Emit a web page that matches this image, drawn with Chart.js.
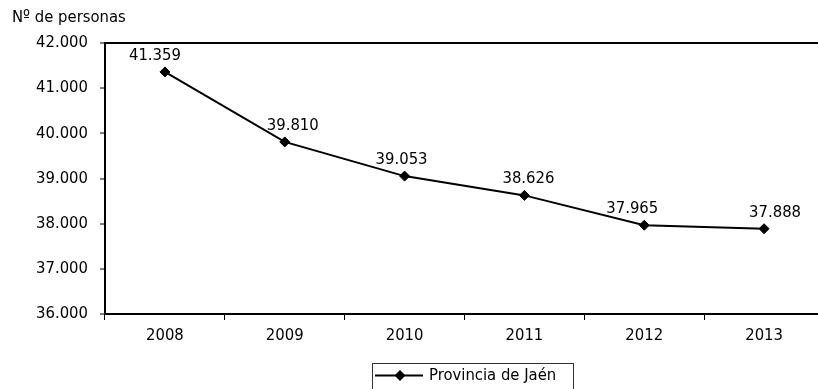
<!DOCTYPE html>
<html>
<head>
<meta charset="utf-8">
<script src="https://cdn.jsdelivr.net/npm/chart.js@4.4.1/dist/chart.umd.min.js"></script>
<style>
  html, body { margin: 0; padding: 0; background: #fff; }
  #clip { width: 818px; height: 389px; overflow: hidden; position: relative; }
  #wrap { width: 830px; height: 389px; position: absolute; left: 0; top: 0; }
</style>
</head>
<body>
<div id="clip"><div id="wrap"><canvas id="c"></canvas></div></div>
<script>
// ---- data ----
const categories = ['2008', '2009', '2010', '2011', '2012', '2013'];
const personas = [41359, 39810, 39053, 38626, 37965, 37888];
const seriesName = 'Provincia de Jaén';
const yAxisTitle = 'Nº de personas';
const yMin = 36000, yMax = 42000, yStep = 1000;

const FONT = "'DejaVu Sans Condensed', 'Noto Sans', 'DejaVu Sans', sans-serif";
const FSIZE = 16.5;
const fmt = v => String(v).replace(/\B(?=(\d{3})+(?!\d))/g, '.');

const labelDx = [-10, 8, -3, 4, -12, 11];

const decorPlugin = {
  id: 'decor',
  afterDatasetsDraw(chart) {
    const ctx = chart.ctx;
    const meta = chart.getDatasetMeta(0);
    ctx.save();
    ctx.font = FSIZE + 'px ' + FONT;
    ctx.fillStyle = '#000';
    ctx.textAlign = 'center';
    ctx.textBaseline = 'bottom';
    meta.data.forEach((pt, i) => {
      ctx.fillText(fmt(chart.data.datasets[0].data[i]), pt.x + labelDx[i], pt.y - 8);
    });
    ctx.restore();
  },
  afterDraw(chart) {
    const ctx = chart.ctx;
    ctx.save();
    // axis title
    ctx.font = FSIZE + 'px ' + FONT;
    ctx.fillStyle = '#000';
    ctx.textAlign = 'left';
    ctx.textBaseline = 'middle';
    ctx.fillText(yAxisTitle, 12, 18);
    // legend
    ctx.strokeStyle = '#333';
    ctx.lineWidth = 1;
    ctx.strokeRect(372.5, 363.5, 201, 40);
    ctx.strokeStyle = '#000';
    ctx.lineWidth = 2;
    ctx.beginPath();
    ctx.moveTo(375, 375.5);
    ctx.lineTo(423, 375.5);
    ctx.stroke();
    ctx.fillStyle = '#000';
    ctx.beginPath();
    ctx.moveTo(400, 370);
    ctx.lineTo(405.5, 375.5);
    ctx.lineTo(400, 381);
    ctx.lineTo(394.5, 375.5);
    ctx.closePath();
    ctx.fill();
    ctx.textAlign = 'left';
    ctx.textBaseline = 'middle';
    ctx.fillText(seriesName, 429, 376);
    ctx.restore();
  }
};

new Chart(document.getElementById('c'), {
  type: 'line',
  data: {
    labels: categories,
    datasets: [{
      label: seriesName,
      data: personas,
      borderColor: '#000',
      backgroundColor: '#000',
      borderWidth: 2,
      pointStyle: 'rectRot',
      pointRadius: 5,
      pointBorderWidth: 1,
      pointBackgroundColor: '#000',
      pointBorderColor: '#000',
      tension: 0,
      fill: false
    }]
  },
  options: {
    responsive: true,
    maintainAspectRatio: false,
    animation: false,
    devicePixelRatio: 1,
    layout: { padding: { top: 43, right: 4, bottom: 0, left: 0 } },
    plugins: {
      legend: { display: false },
      title: { display: false },
      tooltip: { enabled: false }
    },
    scales: {
      x: {
        type: 'category',
        offset: true,
        afterFit: s => { s.height = 75; },
        border: { display: true, color: '#000', width: 2 },
        grid: {
          display: true,
          offset: true,
          drawOnChartArea: false,
          drawTicks: true,
          tickLength: 6,
          tickColor: '#000',
          tickWidth: 1
        },
        ticks: {
          color: '#000',
          padding: 6,
          maxRotation: 0,
          font: { family: FONT, size: FSIZE }
        }
      },
      y: {
        min: yMin,
        max: yMax,
        afterFit: s => { s.width = 105; },
        border: { display: true, color: '#000', width: 2 },
        grid: {
          display: true,
          drawOnChartArea: true,
          color: ctx => (ctx.tick && ctx.tick.value === yMax) ? '#000' : 'rgba(0,0,0,0)',
          lineWidth: 2,
          tickLength: 5,
          tickColor: '#000',
          tickWidth: 1
        },
        ticks: {
          stepSize: yStep,
          color: '#000',
          padding: 12,
          font: { family: FONT, size: FSIZE },
          callback: v => fmt(v)
        }
      }
    }
  },
  plugins: [decorPlugin]
});
</script>
</body>
</html>
